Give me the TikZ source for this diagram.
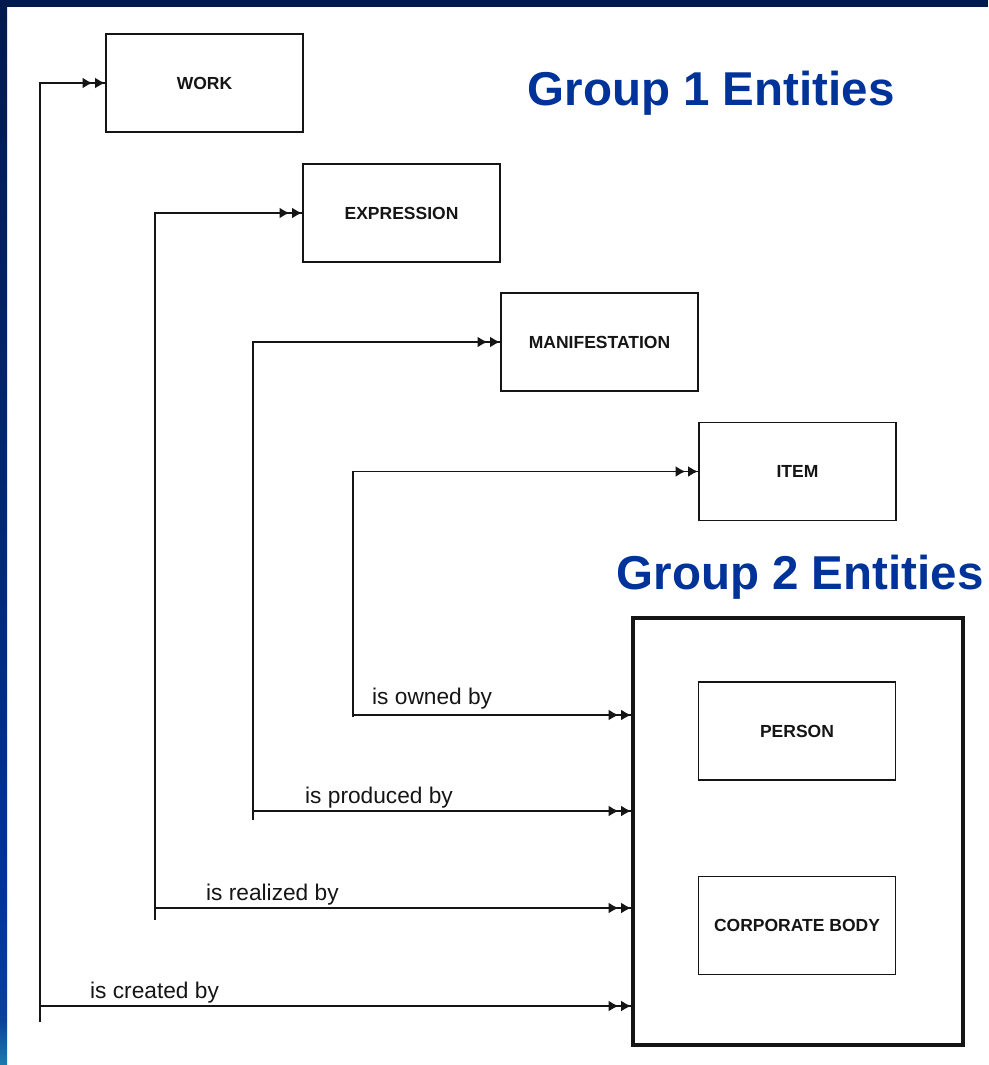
\documentclass[tikz,border=0pt]{standalone}
\usepackage{fontspec}
\setmainfont{Liberation Sans}
\usetikzlibrary{arrows.meta}
\definecolor{navy}{HTML}{001A4D}
\definecolor{bandmid}{HTML}{00287A}
\definecolor{bandblue}{HTML}{0033A0}
\definecolor{bandblueb}{HTML}{0A409E}
\definecolor{bandteal}{HTML}{1A7CAE}
\definecolor{grpblue}{HTML}{003399}
\definecolor{ink}{HTML}{151515}
\pgfdeclareverticalshading{band}{100bp}{color(0bp)=(bandteal); color(25bp)=(bandteal); color(27.1bp)=(bandblueb); color(32.7bp)=(bandblue); color(48.5bp)=(bandmid); color(75bp)=(navy); color(100bp)=(navy)}
\tikzset{
  box/.style={draw=ink, line width=1.9pt, minimum width=197pt, minimum height=98pt, inner sep=0pt,
              text=ink, font=\bfseries\fontsize{17.5}{19}\selectfont},
  bigbox/.style={draw=ink, line width=3.8pt, minimum width=330pt, minimum height=427pt, inner sep=0pt},
  conn/.style={draw=ink, line width=1.9pt},
  dbl/.style={postaction={draw=ink, line width=1.9pt,
      -{Latex[length=10pt,width=11pt,sep=2.5pt]Latex[length=10pt,width=11pt]}}},
  lbl/.style={anchor=base west, inner sep=0pt, text=ink, font=\fontsize{22.7}{25}\selectfont},
  grp/.style={text=grpblue, inner sep=0pt, font=\bfseries\fontsize{47.5}{52}\selectfont}
}
\begin{document}
\begin{tikzpicture}[x=1pt,y=-1pt]
\useasboundingbox (0,0) rectangle (988,1065);
\fill[white] (0,0) rectangle (988,1065);
\shade[shading=band] (0,0) rectangle (7,1065);
\fill[navy] (0,0) rectangle (988,7);

% group 1 entities
\node[box] (work)  at (204.5,83)  {WORK};
\node[box] (expr)  at (401.5,213) {EXPRESSION};
\node[box] (manif) at (599.5,342) {MANIFESTATION};
\node[box] (item)  at (797.5,471.5) {ITEM};

% group 2 entities
\node[bigbox] (g2) at (798,831.5) {};
\node[box] (person) at (797,731) {PERSON};
\node[box] (corp)   at (797,925.5) {CORPORATE BODY};

% titles
\node[grp] (t1) at (711,93) {Group 1 Entities};
\node[grp] (t2) at (800,577) {Group 2 Entities};

% vertical lines' bottom ends and branch points
\coordinate (a1) at (40,1022);
\coordinate (a2) at (155,920);
\coordinate (a3) at (253,820);
\coordinate (a4) at (353,717);
\coordinate (b1) at (40,1006);
\coordinate (b2) at (155,908);
\coordinate (b3) at (253,811);
\coordinate (b4) at (353,715);

\draw[conn,dbl] (a1) |- (work.west);
\draw[conn,dbl] (a2) |- (expr.west);
\draw[conn,dbl] (a3) |- (manif.west);
\draw[conn,dbl] (a4) |- (item.west);

\draw[conn,dbl] (b1) -- (b1 -| g2.west);
\draw[conn,dbl] (b2) -- (b2 -| g2.west);
\draw[conn,dbl] (b3) -- (b3 -| g2.west);
\draw[conn,dbl] (b4) -- (b4 -| g2.west);

% labels
\node[lbl] (l1) at (90,998) {is created by};
\node[lbl] (l2) at (206,900) {is realized by};
\node[lbl] (l3) at (305,803) {is produced by};
\node[lbl] (l4) at (372,704) {is owned by};
\end{tikzpicture}
\end{document}
